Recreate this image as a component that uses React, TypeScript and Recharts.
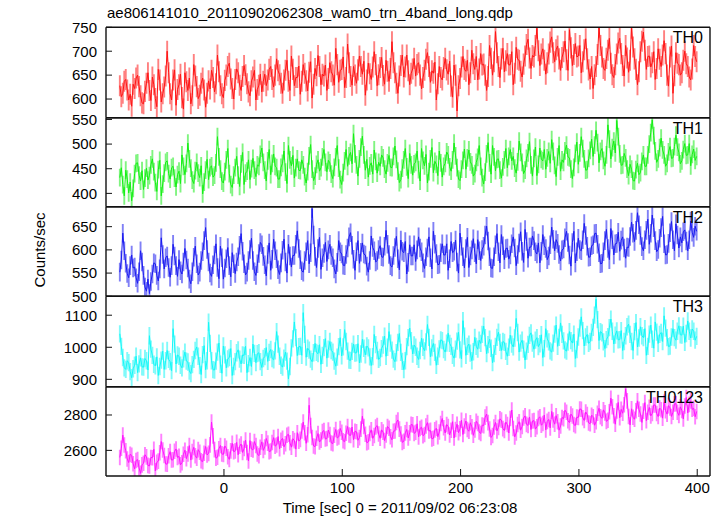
import React from "react";
import { LineChart, Line, XAxis, YAxis, ErrorBar } from "recharts";

const W = 724;
const H = 516;
const PLOT_LEFT = 106;
const PLOT_RIGHT = 710;
const FONT = "'Liberation Sans', Arial, Helvetica, sans-serif";
const TINY = 0.01;

// time bins (s): first bin centre and bin width
const T_START = -88;
const T_STEP = 1.25;

const xDomain = [-99.7, 410.8];
const xMajorTicks = [0, 100, 200, 300, 400];
const xMinorTicks = [-80, -60, -40, -20, 20, 40, 60, 80, 120, 140, 160, 180, 220, 240, 260, 280, 320, 340, 360, 380];

const th0 = [
  628, 605, 612, 637, 641, 619, 598, 610, 585, 631, 622, 644, 650, 626, 607, 592, 590, 616, 633, 655,
  618, 597, 646, 630, 601, 584, 662, 640, 594, 611, 625, 648, 700, 655, 611, 598, 640, 661, 587, 620,
  630, 652, 603, 579, 655, 636, 618, 644, 590, 607, 672, 648, 626, 601, 608, 633, 644, 619, 583, 612,
  638, 621, 660, 645, 615, 632, 692, 657, 628, 611, 603, 639, 650, 668, 675, 642, 622, 600, 641, 663,
  655, 629, 618, 647, 670, 651, 632, 615, 607, 638, 646, 660, 598, 620, 629, 652, 615, 637, 652, 628,
  640, 662, 668, 641, 625, 650, 684, 659, 651, 633, 612, 640, 660, 681, 637, 618, 690, 662, 628, 645,
  645, 669, 610, 637, 672, 654, 638, 617, 656, 678, 602, 631, 664, 649, 691, 668, 630, 652, 648, 671,
  618, 643, 676, 657, 650, 629, 706, 672, 635, 660, 662, 688, 624, 645, 715, 676, 647, 629, 668, 650,
  633, 661, 690, 668, 652, 679, 608, 640, 675, 653, 641, 667, 699, 672, 628, 651, 666, 687, 649, 631,
  681, 658, 637, 664, 720, 676, 655, 633, 612, 648, 670, 692, 646, 667, 692, 659, 630, 654, 663, 685,
  648, 672, 676, 650, 621, 645, 660, 683, 697, 668, 635, 659, 654, 677, 598, 632, 668, 645, 640, 666,
  685, 661, 652, 679, 627, 604, 671, 650, 575, 628, 643, 667, 689, 662, 658, 681, 630, 655, 702, 674,
  662, 689, 640, 663, 695, 671, 673, 650, 618, 647, 712, 685, 650, 678, 741, 697, 668, 645, 684, 706,
  657, 680, 695, 671, 672, 699, 630, 654, 708, 683, 681, 658, 646, 673, 690, 714, 725, 686, 664, 691,
  688, 712, 748, 701, 670, 694, 705, 681, 652, 676, 694, 719, 730, 697, 678, 703, 711, 684, 660, 687,
  699, 721, 682, 660, 745, 707, 670, 693, 716, 688, 690, 712, 655, 678, 703, 726, 684, 661, 642, 668,
  622, 651, 668, 693, 750, 712, 688, 664, 660, 685, 702, 727, 675, 651, 645, 672, 694, 717, 727, 695,
  670, 648, 712, 686, 656, 681, 748, 709, 684, 662, 630, 657, 699, 721, 740, 702, 662, 689, 690, 667,
  676, 699, 641, 664, 705, 683, 668, 692, 722, 695, 650, 627, 688, 711, 612, 649, 697, 675, 672, 650,
  655, 681, 700, 674, 668, 646, 640, 663, 712, 689, 678,
];

const th1 = [
  432, 452, 418, 395, 447, 429, 401, 423, 385, 410, 440, 461, 462, 437, 425, 446, 408, 431, 451, 427,
  436, 458, 470, 444, 422, 404, 448, 467, 395, 419, 441, 463, 466, 440, 429, 452, 455, 431, 413, 438,
  445, 420, 478, 455, 438, 461, 502, 470, 451, 427, 420, 446, 463, 441, 432, 456, 399, 423, 447, 469,
  428, 452, 456, 433, 437, 462, 515, 474, 449, 425, 421, 444, 468, 491, 440, 418, 412, 437, 452, 475,
  437, 414, 460, 483, 418, 441, 445, 468, 428, 450, 471, 447, 434, 458, 455, 479, 492, 463, 447, 425,
  466, 489, 438, 461, 480, 455, 452, 429, 429, 453, 461, 486, 443, 420, 497, 468, 456, 477, 431, 452,
  470, 447, 446, 468, 458, 434, 421, 444, 476, 499, 449, 426, 435, 459, 468, 445, 452, 474, 489, 463,
  444, 467, 462, 439, 430, 453, 474, 497, 451, 428, 418, 442, 466, 489, 455, 476, 483, 460, 521, 480,
  458, 435, 470, 494, 516, 478, 447, 469, 433, 456, 462, 439, 488, 465, 441, 463, 455, 478, 472, 449,
  439, 462, 477, 453, 452, 475, 496, 469, 445, 422, 428, 451, 468, 491, 454, 430, 481, 458, 437, 460,
  463, 486, 448, 425, 491, 467, 456, 479, 421, 444, 470, 493, 442, 465, 459, 436, 486, 462, 433, 455,
  461, 484, 478, 454, 445, 468, 502, 476, 452, 429, 426, 449, 467, 490, 449, 472, 488, 464, 458, 435,
  440, 463, 473, 497, 455, 432, 419, 443, 480, 503, 462, 439, 497, 474, 446, 469, 470, 447, 431, 454,
  468, 491, 452, 475, 489, 466, 475, 451, 441, 464, 506, 483, 463, 440, 447, 471, 482, 505, 458, 435,
  471, 494, 436, 459, 492, 469, 466, 489, 449, 472, 485, 461, 509, 485, 457, 434, 474, 497, 445, 468,
  463, 486, 498, 474, 472, 449, 430, 453, 481, 504, 459, 482, 515, 491, 470, 447, 448, 471, 487, 510,
  475, 498, 528, 503, 462, 485, 491, 467, 455, 478, 539, 510, 470, 493, 506, 482, 548, 515, 480, 457,
  458, 481, 472, 449, 436, 459, 449, 426, 425, 448, 461, 438, 442, 465, 478, 455, 455, 478, 500, 523,
  549, 517, 486, 463, 470, 493, 512, 488, 478, 455, 461, 484, 495, 471, 472, 495, 518, 494, 483, 460,
  466, 489, 501, 477, 478, 501, 456, 479, 490, 467, 475,
];

const th2 = [
  552, 578, 636, 598, 571, 549, 540, 566, 589, 561, 563, 540, 528, 553, 598, 574, 545, 520, 511, 537,
  506, 532, 548, 572, 570, 545, 533, 559, 626, 590, 559, 583, 587, 562, 541, 566, 612, 587, 566, 543,
  579, 555, 548, 574, 603, 578, 561, 537, 527, 553, 584, 608, 570, 546, 552, 577, 596, 620, 648, 601,
  574, 550, 543, 568, 589, 613, 562, 538, 608, 583, 537, 561, 581, 605, 566, 542, 594, 570, 549, 574,
  585, 610, 635, 597, 570, 546, 552, 577, 601, 625, 577, 553, 545, 570, 592, 616, 611, 586, 568, 544,
  590, 615, 556, 580, 623, 598, 581, 557, 547, 572, 599, 623, 574, 550, 612, 587, 563, 588, 588, 612,
  641, 603, 579, 555, 552, 577, 596, 620, 570, 594, 689, 632, 586, 562, 603, 627, 558, 583, 592, 616,
  575, 600, 612, 588, 583, 559, 548, 573, 620, 596, 591, 567, 566, 590, 604, 628, 637, 610, 580, 556,
  596, 620, 571, 595, 615, 591, 589, 565, 552, 577, 630, 605, 598, 574, 577, 601, 609, 585, 584, 608,
  642, 612, 590, 566, 563, 588, 605, 629, 581, 557, 621, 597, 594, 618, 548, 573, 611, 587, 587, 611,
  575, 600, 628, 604, 596, 572, 560, 585, 604, 628, 583, 559, 640, 612, 592, 568, 569, 594, 613, 589,
  589, 613, 556, 581, 618, 594, 597, 621, 574, 550, 636, 608, 585, 561, 603, 627, 562, 587, 600, 624,
  594, 570, 622, 598, 577, 601, 608, 632, 651, 619, 585, 561, 560, 585, 611, 635, 596, 572, 633, 609,
  579, 603, 604, 580, 589, 613, 628, 604, 566, 590, 615, 639, 597, 573, 644, 618, 582, 606, 606, 630,
  620, 596, 591, 615, 572, 597, 633, 609, 603, 579, 587, 611, 649, 623, 598, 622, 614, 590, 576, 600,
  602, 626, 640, 616, 589, 565, 616, 640, 572, 596, 625, 601, 598, 622, 657, 631, 608, 584, 585, 609,
  611, 635, 636, 612, 594, 570, 571, 596, 620, 644, 603, 579, 646, 622, 589, 613, 614, 638, 597, 621,
  628, 604, 582, 606, 605, 629, 660, 636, 618, 642, 680, 654, 631, 607, 598, 622, 642, 666, 612, 636,
  675, 648, 620, 596, 601, 625, 648, 672, 613, 589, 590, 614, 637, 661, 622, 598, 656, 632, 604, 628,
  615, 639, 643, 619, 598, 622, 662, 638, 627, 651, 640,
];

const th3 = [
  1042, 1003, 968, 936, 931, 958, 952, 924, 905, 933, 944, 972, 921, 948, 967, 939, 938, 965, 958, 929,
  1036, 994, 975, 947, 942, 970, 912, 940, 960, 988, 931, 958, 990, 962, 955, 927, 1058, 1010, 948, 976,
  972, 944, 936, 964, 985, 957, 954, 926, 918, 946, 962, 990, 1001, 972, 943, 915, 977, 1005, 930, 958,
  1078, 1012, 958, 930, 929, 957, 985, 1013, 947, 919, 1004, 976, 936, 964, 968, 996, 912, 940, 955, 983,
  992, 963, 948, 976, 975, 1003, 921, 949, 968, 940, 1010, 981, 952, 980, 983, 955, 937, 965, 971, 999,
  956, 984, 993, 965, 961, 989, 1049, 1010, 972, 944, 938, 966, 985, 957, 901, 940, 998, 1026, 1079, 1030,
  974, 1002, 1003, 975, 1108, 1040, 969, 997, 991, 963, 955, 983, 1012, 984, 980, 1008, 947, 975, 999, 1027,
  966, 994, 1018, 990, 985, 957, 941, 969, 1002, 1030, 973, 1001, 1055, 1018, 988, 960, 959, 987, 1010, 982,
  983, 1011, 951, 979, 1025, 997, 976, 1004, 998, 970, 943, 971, 1040, 1008, 990, 962, 968, 996, 1007, 1035,
  972, 1000, 1049, 1013, 991, 963, 955, 983, 1015, 1043, 984, 956, 930, 958, 1002, 1030, 1060, 1021, 979, 1007,
  1000, 972, 962, 990, 1028, 1000, 989, 1017, 1071, 1031, 970, 998, 1012, 984, 944, 972, 995, 1023, 1021, 993,
  985, 1013, 1044, 1012, 1003, 975, 966, 994, 1019, 1047, 992, 964, 1083, 1035, 975, 1003, 1010, 982, 958, 986,
  1031, 1003, 994, 1022, 1012, 1040, 1066, 1030, 980, 1008, 1025, 997, 952, 980, 1003, 1031, 1047, 1015, 990, 1018,
  1015, 987, 972, 1000, 1038, 1010, 1001, 1029, 1090, 1046, 985, 1013, 1022, 994, 960, 988, 1009, 1037, 1045, 1013,
  994, 1022, 1030, 1002, 1011, 1039, 968, 996, 1058, 1026, 1017, 989, 985, 1013, 1041, 1069, 1003, 1031, 1076, 1040,
  1020, 992, 988, 1016, 1049, 1021, 1013, 1041, 965, 993, 1032, 1060, 1095, 1052, 1004, 1032, 1040, 1012, 1018, 1046,
  1062, 1100, 1150, 1086, 1021, 1049, 1045, 1017, 996, 1024, 1033, 1061, 1088, 1050, 1010, 1038, 1051, 1023, 1024, 1052,
  990, 1018, 1036, 1064, 1072, 1040, 1018, 990, 1049, 1077, 1001, 1029, 1064, 1036, 1030, 1058, 975, 1003, 1041, 1069,
  1025, 997, 1079, 1047, 1012, 1040, 1046, 1018, 1098, 1060, 1030, 1002, 1004, 1032, 1058, 1030, 1022, 1050, 1067, 1039,
  1038, 1066, 1015, 1043, 1082, 1050, 1029, 1057, 1050, 1022, 1034,
];

const th0123 = [
  2560, 2612, 2686, 2630, 2598, 2551, 2531, 2578, 2572, 2524, 2495, 2543, 2548, 2501, 2470, 2518, 2527, 2575, 2563, 2515,
  2512, 2560, 2558, 2606, 2484, 2532, 2539, 2587, 2650, 2602, 2571, 2523, 2522, 2570, 2593, 2545, 2547, 2595, 2608, 2560,
  2566, 2518, 2530, 2578, 2601, 2553, 2579, 2627, 2545, 2593, 2617, 2569, 2556, 2604, 2589, 2541, 2536, 2584, 2622, 2574,
  2583, 2631, 2760, 2682, 2604, 2556, 2561, 2609, 2628, 2580, 2577, 2625, 2612, 2564, 2549, 2597, 2640, 2592, 2597, 2645,
  2575, 2623, 2636, 2588, 2610, 2658, 2588, 2540, 2655, 2607, 2602, 2650, 2627, 2579, 2570, 2618, 2648, 2600, 2619, 2667,
  2641, 2593, 2596, 2644, 2672, 2624, 2630, 2678, 2609, 2657, 2668, 2620, 2637, 2685, 2691, 2643, 2618, 2666, 2655, 2607,
  2700, 2652, 2662, 2710, 2760, 2700, 2640, 2688, 2855, 2740, 2673, 2625, 2621, 2669, 2695, 2647, 2658, 2706, 2712, 2664,
  2667, 2715, 2690, 2642, 2638, 2686, 2718, 2670, 2676, 2724, 2702, 2654, 2649, 2697, 2735, 2687, 2684, 2732, 2660, 2708,
  2705, 2657, 2672, 2720, 2793, 2735, 2691, 2643, 2648, 2696, 2716, 2668, 2684, 2732, 2740, 2692, 2668, 2716, 2703, 2655,
  2687, 2735, 2725, 2677, 2660, 2708, 2710, 2758, 2772, 2720, 2693, 2645, 2651, 2699, 2718, 2670, 2699, 2747, 2744, 2696,
  2702, 2750, 2676, 2724, 2731, 2683, 2690, 2738, 2757, 2709, 2713, 2665, 2668, 2716, 2725, 2677, 2704, 2752, 2780, 2728,
  2698, 2746, 2735, 2687, 2714, 2762, 2670, 2718, 2748, 2700, 2722, 2770, 2690, 2738, 2766, 2718, 2708, 2756, 2733, 2685,
  2716, 2764, 2752, 2704, 2695, 2743, 2740, 2788, 2805, 2757, 2721, 2673, 2684, 2732, 2758, 2710, 2730, 2778, 2771, 2723,
  2712, 2760, 2746, 2698, 2780, 2828, 2724, 2676, 2698, 2746, 2762, 2714, 2735, 2783, 2795, 2747, 2741, 2789, 2718, 2766,
  2768, 2720, 2733, 2781, 2790, 2742, 2752, 2800, 2716, 2764, 2775, 2727, 2820, 2772, 2748, 2796, 2762, 2714, 2738, 2786,
  2779, 2827, 2815, 2767, 2757, 2805, 2794, 2746, 2740, 2788, 2786, 2834, 2832, 2784, 2769, 2817, 2803, 2755, 2751, 2799,
  2790, 2742, 2762, 2810, 2838, 2790, 2781, 2829, 2812, 2764, 2770, 2818, 2895, 2847, 2796, 2748, 2823, 2871, 2784, 2832,
  2810, 2858, 2948, 2880, 2792, 2744, 2835, 2787, 2776, 2824, 2880, 2832, 2806, 2758, 2822, 2870, 2768, 2816, 2843, 2795,
  2809, 2857, 2856, 2808, 2791, 2839, 2830, 2782, 2872, 2824, 2805, 2853, 2840, 2792, 2815, 2863, 2864, 2816, 2798, 2846,
  2826, 2778, 2851, 2899, 2812, 2860, 2880, 2832, 2838, 2790, 2820,
];

// symmetric 1-sigma errors per band
const errTH0 = 22;
const errTH1 = 18;
const errTH2 = 20;
const errTH3 = 27;
const errTH0123 = 44;

const panelNames = ["TH0", "TH1", "TH2", "TH3", "TH0123"];
const yDomains = [[561, 750], [373, 553.5], [500, 693], [877, 1159], [2455, 2960]];
const yMajorTicks = [
  [600, 650, 700, 750],
  [400, 450, 500, 550],
  [500, 550, 600, 650],
  [900, 1000, 1100],
  [2600, 2800],
];
const yMinorTicks = [
  [570, 580, 590, 610, 620, 630, 640, 660, 670, 680, 690, 710, 720, 730, 740],
  [380, 390, 410, 420, 430, 440, 460, 470, 480, 490, 510, 520, 530, 540],
  [510, 520, 530, 540, 560, 570, 580, 590, 610, 620, 630, 640, 660, 670, 680, 690],
  [880, 920, 940, 960, 980, 1020, 1040, 1060, 1080, 1120, 1140],
  [2500, 2700, 2900],
];

const series = [th0, th1, th2, th3, th0123];
const errors = [errTH0, errTH1, errTH2, errTH3, errTH0123];
const lineColors = ["#ff1414", "#14f014", "#1a1af0", "#14f8f8", "#ff14ff"];
const errColors = ["#ff8080", "#80f480", "#8080f6", "#80fafa", "#ff80ff"];
const panelEdges = [27.3, 117.7, 206.7, 296.3, 386.7, 476];

const FRAME = { stroke: "#111", strokeWidth: 1.4 };
const TICKLINE = { stroke: "#111", strokeWidth: 1 };

function buildRows(idx: number) {
  return series[idx].map((v, i) => ({ t: T_START + i * T_STEP, v, e: errors[idx] }));
}

function DataLayer({ idx }: { idx: number }) {
  const data = buildRows(idx);
  const top = panelEdges[idx];
  const bottom = panelEdges[idx + 1];
  const clip = `inset(${top}px ${W - PLOT_RIGHT}px ${H - bottom}px ${PLOT_LEFT}px)`;
  return (
    <div style={{ position: "absolute", left: 0, top: 0, clipPath: clip }}>
      <LineChart
        width={W}
        height={H}
        data={data}
        margin={{ top, bottom: H - bottom, left: PLOT_LEFT, right: W - PLOT_RIGHT }}
      >
        <XAxis xAxisId="d" type="number" dataKey="t" domain={xDomain} allowDataOverflow hide />
        <YAxis yAxisId="d" type="number" domain={yDomains[idx]} allowDataOverflow hide />
        <Line
          xAxisId="d"
          yAxisId="d"
          dataKey="v"
          type="linear"
          stroke={lineColors[idx]}
          strokeWidth={1}
          dot={false}
          activeDot={false}
          isAnimationActive={false}
        >
          <ErrorBar dataKey="e" direction="y" width={0} stroke={errColors[idx]} strokeWidth={1.9} />
        </Line>
      </LineChart>
    </div>
  );
}

function FrameLayer({ idx }: { idx: number }) {
  const data = buildRows(idx);
  const top = panelEdges[idx];
  const bottom = panelEdges[idx + 1];
  const last = idx === series.length - 1;
  const common = {
    type: "number" as const,
    dataKey: "t",
    domain: xDomain,
    allowDataOverflow: true,
    interval: 0 as const,
    height: TINY,
  };
  const yCommon = {
    type: "number" as const,
    domain: yDomains[idx],
    allowDataOverflow: true,
    interval: 0 as const,
    width: TINY,
  };
  return (
    <div style={{ position: "absolute", left: 0, top: 0 }}>
      <LineChart
        width={W}
        height={H}
        data={data}
        margin={{ top: top - 2 * TINY, bottom: H - bottom - 2 * TINY, left: PLOT_LEFT - 2 * TINY, right: W - PLOT_RIGHT - 2 * TINY }}
      >
        <XAxis {...common} xAxisId="bm" orientation="bottom" ticks={xMinorTicks} tick={false} tickSize={-4} axisLine={false} tickLine={TICKLINE} />
        <XAxis
          {...common}
          xAxisId="b"
          orientation="bottom"
          ticks={xMajorTicks}
          tick={last ? { fontSize: 15, fill: "#000" } : false}
          tickSize={-7}
          tickMargin={13}
          axisLine={FRAME}
          tickLine={TICKLINE}
        />
        <XAxis {...common} xAxisId="tm" orientation="top" ticks={xMinorTicks} tick={false} tickSize={-4} axisLine={false} tickLine={TICKLINE} />
        <XAxis {...common} xAxisId="t" orientation="top" ticks={xMajorTicks} tick={false} tickSize={-7} axisLine={FRAME} tickLine={TICKLINE} />
        <YAxis {...yCommon} yAxisId="lm" orientation="left" ticks={yMinorTicks[idx]} tick={false} tickSize={-3} axisLine={false} tickLine={TICKLINE} />
        <YAxis
          {...yCommon}
          yAxisId="l"
          orientation="left"
          ticks={yMajorTicks[idx]}
          tick={{ fontSize: 15, fill: "#000" }}
          tickSize={-6}
          tickMargin={15}
          axisLine={FRAME}
          tickLine={TICKLINE}
        />
        <YAxis {...yCommon} yAxisId="rm" orientation="right" ticks={yMinorTicks[idx]} tick={false} tickSize={-3} axisLine={false} tickLine={TICKLINE} />
        <YAxis {...yCommon} yAxisId="r" orientation="right" ticks={yMajorTicks[idx]} tick={false} tickSize={-6} axisLine={FRAME} tickLine={TICKLINE} />
        <Line
          xAxisId="b"
          yAxisId="l"
          dataKey="v"
          stroke="none"
          strokeWidth={0}
          dot={false}
          activeDot={false}
          legendType="none"
          isAnimationActive={false}
        />
        <text x={703} y={top + 16} textAnchor="end" fontSize={16} fill="#000">
          {panelNames[idx]}
        </text>
        {idx === 0 && (
          <text x={107} y={18} fontSize={15} fill="#000">
            ae806141010_20110902062308_wam0_trn_4band_long.qdp
          </text>
        )}
        {idx === 2 && (
          <text x={45} y={250} textAnchor="middle" fontSize={15} fill="#000" transform="rotate(-90, 45, 250)">
            Counts/sec
          </text>
        )}
        {last && (
          <text x={400} y={513} textAnchor="middle" fontSize={15} fill="#000">
            Time [sec] 0 = 2011/09/02 06:23:08
          </text>
        )}
      </LineChart>
    </div>
  );
}

export default function App() {
  return (
    <div style={{ position: "absolute", left: 0, top: 0, width: W, height: H, fontFamily: FONT, background: "#fff" }}>
      {series.map((_, i) => (
        <DataLayer key={"d" + panelNames[i]} idx={i} />
      ))}
      {series.map((_, i) => (
        <FrameLayer key={"f" + panelNames[i]} idx={i} />
      ))}
    </div>
  );
}
